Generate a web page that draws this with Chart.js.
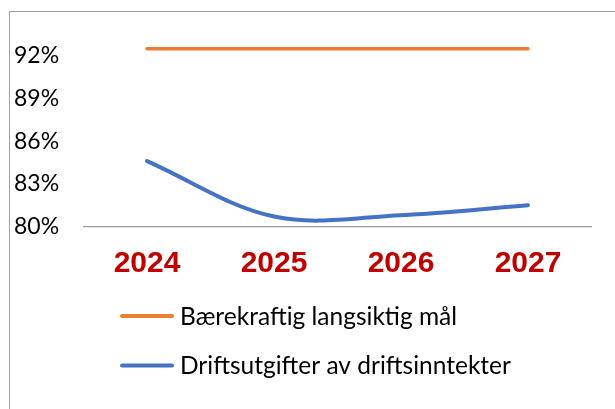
<!DOCTYPE html>
<html>
<head>
<meta charset="utf-8">
<script src="https://cdn.jsdelivr.net/npm/chart.js@4/dist/chart.umd.min.js"></script>
<style>
  html, body { margin: 0; padding: 0; background: #fff; }
  #wrap { position: relative; width: 615px; height: 409px; overflow: hidden; }
  #frame { position: absolute; left: 9px; top: 11px; right: -5px; bottom: -5px;
           border-left: 1px solid #a0a0a0; border-top: 1px solid #a0a0a0; pointer-events: none; }
  canvas { position: absolute; left: 0; top: 0; }
</style>
</head>
<body>
<div id="wrap">
  <canvas id="c" width="615" height="409"></canvas>
  <div id="frame"></div>
</div>
<script>
const categories = ['2024', '2025', '2026', '2027'];
const targetLabel = 'Bærekraftig langsiktig mål';
const targetValues = [92.5, 92.5, 92.5, 92.5];
const actualLabel = 'Driftsutgifter av driftsinntekter';
const actualValues = [84.6, 80.7, 80.8, 81.5];
const yTicks = [80, 83, 86, 89, 92];

const legendPlugin = {
  id: 'customLegend',
  afterDraw(chart) {
    const ctx = chart.ctx;
    const rows = [316, 365.5];
    ctx.save();
    chart.data.datasets.forEach((ds, i) => {
      const y = rows[i];
      ctx.strokeStyle = ds.borderColor;
      ctx.lineWidth = 4;
      ctx.lineCap = 'round';
      ctx.beginPath();
      ctx.moveTo(122, y);
      ctx.lineTo(172, y);
      ctx.stroke();
      ctx.fillStyle = '#000';
      ctx.font = '24.5px Lato';
      ctx.textBaseline = 'middle';
      ctx.textAlign = 'left';
      ctx.fillText(ds.label, 180, y + 1);
    });
    ctx.restore();
  }
};

new Chart(document.getElementById('c'), {
  type: 'line',
  data: {
    labels: categories,
    datasets: [
      { label: targetLabel, data: targetValues, borderColor: '#ED7D31', borderWidth: 3.5,
        pointRadius: 0, tension: 0, borderCapStyle: 'round', fill: false },
      { label: actualLabel, data: actualValues, borderColor: '#4472C4', borderWidth: 4,
        pointRadius: 0, tension: 0.35, borderCapStyle: 'round', fill: false }
    ]
  },
  options: {
    responsive: false,
    animation: false,
    layout: { padding: { left: 14, right: 23.5, top: 27.5, bottom: 0 } },
    plugins: { legend: { display: false }, tooltip: { enabled: false } },
    scales: {
      x: {
        offset: true,
        grid: { display: false, drawTicks: false },
        border: { display: true, color: '#a0a0a0', width: 1.2 },
        ticks: { color: '#C00000', padding: 19,
                 font: { family: 'Liberation Sans', size: 30, weight: 'bold' } },
        afterFit(scale) { scale.height = 182.5; }
      },
      y: {
        min: 80, max: 94,
        grid: { display: false, drawTicks: false },
        border: { display: false },
        afterBuildTicks(scale) { scale.ticks = yTicks.map(v => ({ value: v })); },
        ticks: { color: '#000', crossAlign: 'far',
                 font: { family: 'Lato', size: 23 },
                 callback: v => v + '%' },
        afterFit(scale) { scale.width = 69.5; }
      }
    }
  },
  plugins: [legendPlugin]
});
</script>
</body>
</html>
